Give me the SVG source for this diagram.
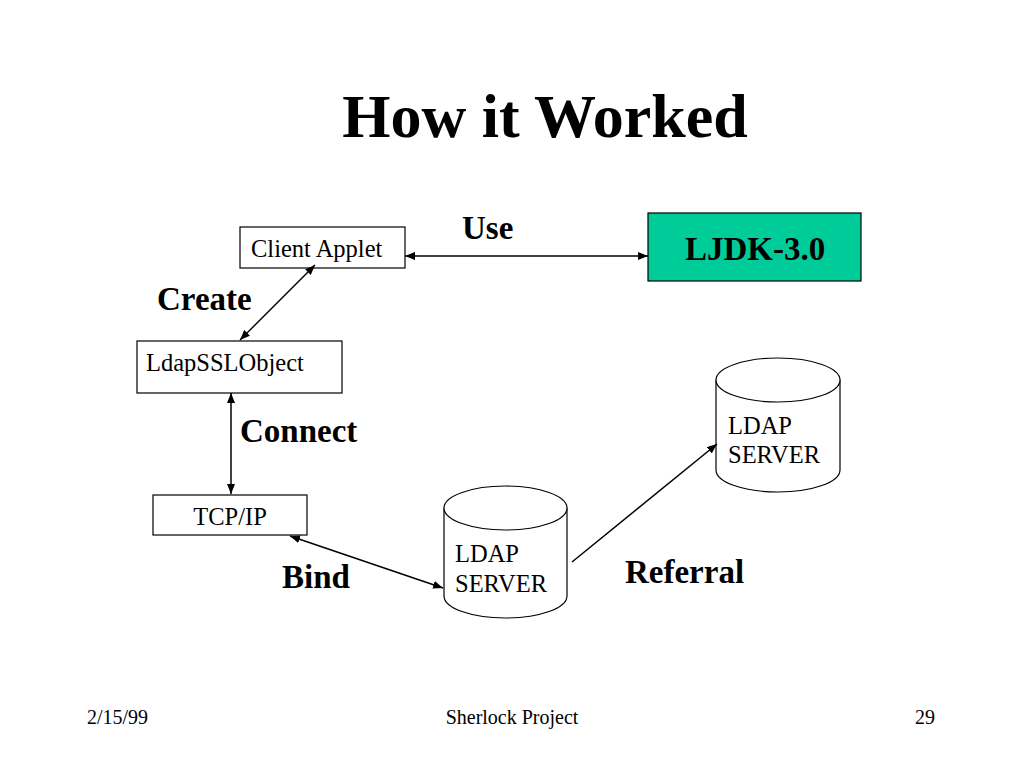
<svg xmlns="http://www.w3.org/2000/svg" width="1024" height="768" viewBox="0 0 1024 768">
<style>
.box{fill:#ffffff;stroke:#000000;stroke-width:1.2}
.green{fill:#00CC99;stroke:#000000;stroke-width:1.2}
.cyl{fill:#ffffff;stroke:#000000;stroke-width:1.2}
.t{font-family:"Liberation Serif","Times New Roman",serif;font-size:24.5px;fill:#000000}
.lbl{font-family:"Liberation Serif","Times New Roman",serif;font-size:33px;font-weight:bold;fill:#000000}
.foot{font-family:"Liberation Serif","Times New Roman",serif;font-size:20px;fill:#000000}
.conn{stroke:#000000;stroke-width:1.5;fill:none}
</style>
<defs>
<marker id="ah" viewBox="0 0 10 8" refX="10" refY="4" markerWidth="10" markerHeight="8" markerUnits="userSpaceOnUse" orient="auto-start-reverse">
<path d="M0,0 L10,4 L0,8 Z" fill="#000000"/>
</marker>
</defs>
<rect width="1024" height="768" fill="#ffffff"/>
<text x="545" y="137" text-anchor="middle" font-family="Liberation Serif,'Times New Roman',serif" font-size="62" font-weight="bold">How it Worked</text>

<g id="client-applet">
<rect class="box" x="240" y="227" width="165" height="41"/>
<text class="t" x="251" y="257">Client Applet</text>
</g>
<g id="ljdk">
<rect class="green" x="648" y="213" width="213" height="68"/>
<text class="lbl" x="755" y="260" text-anchor="middle">LJDK-3.0</text>
</g>
<g id="ldapsslobject">
<rect class="box" x="137" y="341" width="205" height="52"/>
<text class="t" x="146" y="371">LdapSSLObject</text>
</g>
<g id="tcpip">
<rect class="box" x="153" y="495" width="154" height="40"/>
<text class="t" x="230" y="525" text-anchor="middle">TCP/IP</text>
</g>
<g id="ldap-server-1">
<path class="cyl" d="M444,508 L444,596 A61.5,22 0 0 0 567,596 L567,508 A61.5,22 0 0 0 444,508 Z"/>
<path class="cyl" d="M444,508 A61.5,22 0 0 0 567,508"/>
<text class="t" x="455" y="562">LDAP</text>
<text class="t" x="455" y="592">SERVER</text>
</g>
<g id="ldap-server-2">
<path class="cyl" d="M716,380 L716,470 A62,22 0 0 0 840,470 L840,380 A62,22 0 0 0 716,380 Z"/>
<path class="cyl" d="M716,380 A62,22 0 0 0 840,380"/>
<text class="t" x="728" y="434">LDAP</text>
<text class="t" x="728" y="463">SERVER</text>
</g>

<g id="connectors">
<line class="conn" x1="405" y1="256" x2="648" y2="256" marker-start="url(#ah)" marker-end="url(#ah)"/>
<line class="conn" x1="315" y1="265" x2="240" y2="340" marker-start="url(#ah)" marker-end="url(#ah)"/>
<line class="conn" x1="231" y1="393" x2="231" y2="494" marker-start="url(#ah)" marker-end="url(#ah)"/>
<line class="conn" x1="290" y1="536" x2="443" y2="588" marker-start="url(#ah)" marker-end="url(#ah)"/>
<line class="conn" x1="572" y1="562" x2="717" y2="444" marker-end="url(#ah)"/>
</g>

<g id="labels">
<text class="lbl" x="462" y="239">Use</text>
<text class="lbl" x="157" y="310">Create</text>
<text class="lbl" x="240" y="442">Connect</text>
<text class="lbl" x="282" y="588">Bind</text>
<text class="lbl" x="625" y="583">Referral</text>
</g>

<g id="footer">
<text class="foot" x="87" y="724">2/15/99</text>
<text class="foot" x="512" y="724" text-anchor="middle">Sherlock Project</text>
<text class="foot" x="935" y="724" text-anchor="end">29</text>
</g>
</svg>
